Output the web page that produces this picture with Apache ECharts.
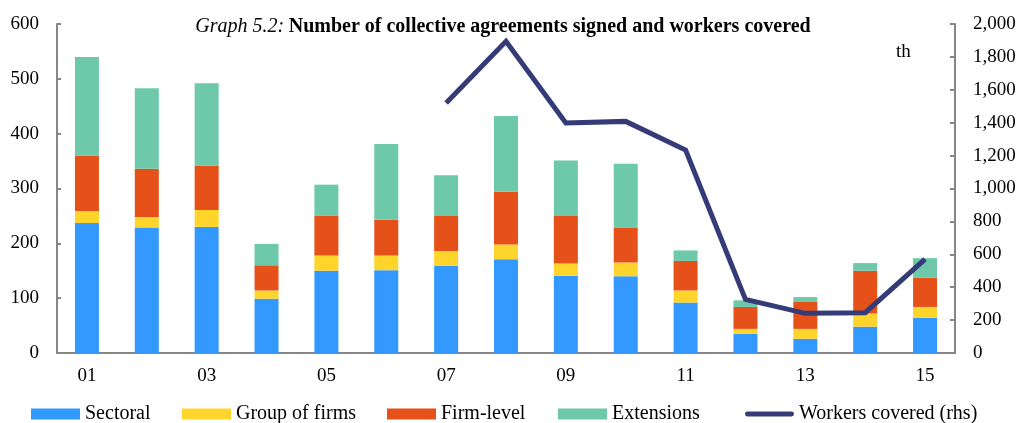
<!DOCTYPE html>
<html>
<head>
<meta charset="utf-8">
<script src="https://cdn.jsdelivr.net/npm/echarts@6/dist/echarts.min.js"></script>
<style>
html,body{margin:0;padding:0;background:#fff;}
#chart{width:1021px;height:423px;}
</style>
</head>
<body>
<div id="chart"></div>
<script>
const categories = ['01','02','03','04','05','06','07','08','09','10','11','12','13','14','15'];
const sectoral     = [237, 229, 230,  99, 150, 151, 159, 171, 141, 140,  92, 35, 26,  48,  64];
const groupOfFirms = [ 22,  19,  31,  15,  28,  27,  27,  27,  22,  25,  22,  9, 18,  24,  20];
const firmLevel    = [101,  88,  81,  46,  72,  65,  64,  96,  87,  64,  54, 40, 49,  78,  53];
const extensions   = [180, 147, 150,  39,  57, 138,  74, 138, 101, 116,  19, 12,  9,  14,  36];
const workers      = [null, null, null, null, null, null, 1520, 1895, 1398, 1408, 1234, 326, 241, 245, 571];
const leftTicks = { min: 0, max: 600, interval: 100 };
const rightTicks = { min: 0, max: 2000, interval: 200 };
const seriesNames = ['Sectoral', 'Group of firms', 'Firm-level', 'Extensions', 'Workers covered (rhs)'];

const FONT = '"Liberation Serif", "Times New Roman", serif';
const chart = echarts.init(document.getElementById('chart'));
const barCommon = { type: 'bar', stack: 'a', barWidth: 24, yAxisIndex: 0 };
const legendLefts = [26, 177, 382, 553, 740];
const lineIcon = 'path://M2,3 L47,3 A2.5,2.5 0 0 1 47,8 L2,8 A2.5,2.5 0 0 1 2,3 Z';
const legends = seriesNames.map((n, i) => ({
  left: legendLefts[i], top: 399, itemWidth: 49, itemHeight: 11,
  textStyle: { fontFamily: FONT, fontSize: 20, color: '#000' },
  data: [{ name: n, icon: i === 4 ? lineIcon : 'rect' }]
}));
chart.setOption({
  animation: false,
  textStyle: { fontFamily: FONT, color: '#000' },
  title: {
    text: '{i|Graph 5.2:} {b|Number of collective agreements signed and workers covered}',
    left: 498, top: 12, textAlign: 'center',
    textStyle: {
      rich: {
        i: { fontFamily: FONT, fontStyle: 'italic', fontWeight: 'normal', fontSize: 20, color: '#000' },
        b: { fontFamily: FONT, fontWeight: 'bold', fontSize: 20, color: '#000' }
      }
    }
  },
  graphic: [{
    type: 'text', left: 896, top: 43,
    style: { text: 'th', fontFamily: FONT, fontSize: 19, fill: '#000' }
  }],
  grid: { left: 57, right: 66, top: 24, bottom: 70 },
  legend: legends,
  xAxis: {
    type: 'category', data: categories, boundaryGap: true,
    axisLine: { lineStyle: { color: '#868686', width: 2 } },
    axisTick: { show: false },
    axisLabel: { interval: 1, fontFamily: FONT, fontSize: 19, color: '#000', margin: 14 }
  },
  yAxis: [{
    type: 'value', min: leftTicks.min, max: leftTicks.max, interval: leftTicks.interval,
    axisLine: { show: true, lineStyle: { color: '#868686', width: 2 } },
    axisTick: { show: true, inside: true, length: 4, lineStyle: { color: '#868686', width: 2 } },
    splitLine: { show: false },
    axisLabel: { fontFamily: FONT, fontSize: 19, color: '#000', margin: 18 }
  }, {
    type: 'value', min: rightTicks.min, max: rightTicks.max, interval: rightTicks.interval,
    position: 'right',
    axisLine: { show: true, lineStyle: { color: '#868686', width: 2 } },
    axisTick: { show: true, inside: true, length: 5, lineStyle: { color: '#868686', width: 2 } },
    splitLine: { show: false },
    axisLabel: { fontFamily: FONT, fontSize: 19, color: '#000', margin: 18,
      formatter: v => v.toLocaleString('en-US') }
  }],
  series: [
    Object.assign({ name: seriesNames[0], data: sectoral, itemStyle: { color: '#3399FF' } }, barCommon),
    Object.assign({ name: seriesNames[1], data: groupOfFirms, itemStyle: { color: '#FFD52B' } }, barCommon),
    Object.assign({ name: seriesNames[2], data: firmLevel, itemStyle: { color: '#E65119' } }, barCommon),
    Object.assign({ name: seriesNames[3], data: extensions, itemStyle: { color: '#6DC9AA' } }, barCommon),
    {
      name: seriesNames[4], type: 'line', yAxisIndex: 1, data: workers,
      symbol: 'none', showSymbol: false, connectNulls: false,
      lineStyle: { color: '#343B77', width: 5, join: 'miter' },
      itemStyle: { color: '#343B77' }, z: 5
    }
  ]
});
</script>
</body>
</html>
